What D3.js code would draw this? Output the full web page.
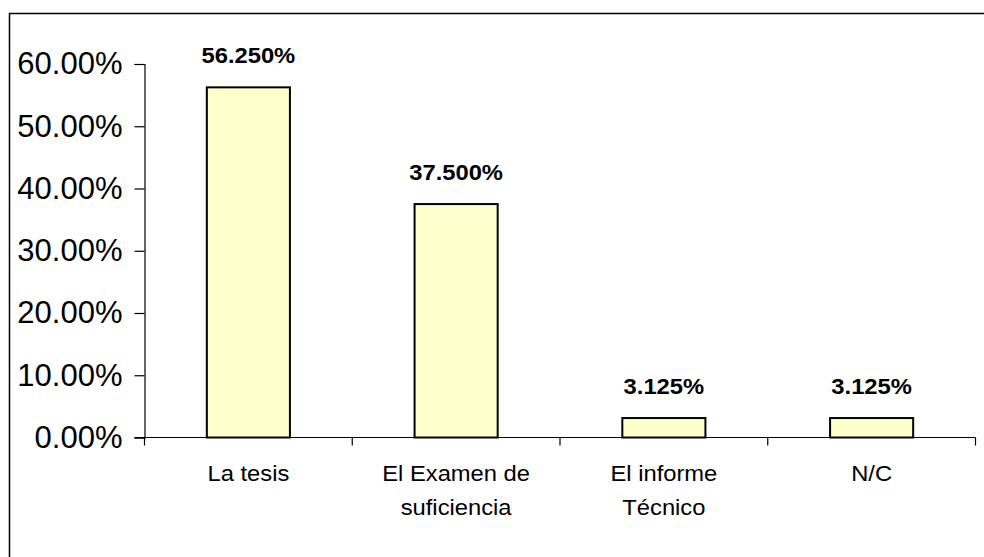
<!DOCTYPE html>
<html>
<head>
<meta charset="utf-8">
<script src="https://cdn.jsdelivr.net/npm/d3@7"></script>
<style>
  html, body { margin: 0; padding: 0; background: #fff; }
  svg { display: block; }
  text { font-family: "Liberation Sans", Arial, sans-serif; fill: #000; }
</style>
</head>
<body>
<svg id="chart" width="984" height="557"></svg>
<script>
const categories = [["La tesis"], ["El Examen de", "suficiencia"], ["El informe", "Técnico"], ["N/C"]];
const values = [56.25, 37.5, 3.125, 3.125];
const valueLabels = ["56.250%", "37.500%", "3.125%", "3.125%"];
const yTicks = [0, 10, 20, 30, 40, 50, 60];

(function () {
const svg = d3.select("#chart");
const W = 984, H = 557;
const stretch = 1.08;

// outer frame
svg.append("rect")
  .attr("x", 9.5).attr("y", 13.5)
  .attr("width", W + 20).attr("height", H + 20)
  .attr("fill", "none").attr("stroke", "#000").attr("stroke-width", 1.5);

const pLeft = 144.5, pRight = 975.5, pTop = 64, pBottom = 437.5;

const x = d3.scaleBand()
  .domain(d3.range(values.length))
  .range([pLeft, pRight])
  .padding(0);

const y = d3.scaleLinear().domain([0, 60]).range([pBottom, pTop]);

// bars
const barW = x.bandwidth() * 0.4;
svg.selectAll("rect.bar")
  .data(values)
  .enter().append("rect")
  .attr("class", "bar")
  .attr("x", (d, i) => x(i) + (x.bandwidth() - barW) / 2)
  .attr("y", d => y(d))
  .attr("width", barW)
  .attr("height", d => y(0) - y(d))
  .attr("fill", "#FFFFCC")
  .attr("stroke", "#000")
  .attr("stroke-width", 2);

// y axis
const yAxis = d3.axisLeft(y)
  .tickValues(yTicks)
  .tickFormat(d => d.toFixed(2) + "%")
  .tickSize(10)
  .tickPadding(12);
const ya = svg.append("g").attr("transform", `translate(${pLeft},0)`).call(yAxis);
ya.select(".domain").attr("stroke", "#000").attr("stroke-width", 1.2);
ya.selectAll(".tick line").attr("stroke", "#000").attr("stroke-width", 1.2);
ya.selectAll(".tick text")
  .attr("font-size", 31)
  .attr("font-family", "'Liberation Sans', Arial, sans-serif")
  .attr("fill", "#000");

// x axis line
svg.append("line")
  .attr("x1", pLeft - 10).attr("x2", pRight)
  .attr("y1", pBottom).attr("y2", pBottom)
  .attr("stroke", "#000").attr("stroke-width", 1.2);

// category boundary ticks
const bounds = d3.range(values.length + 1).map(i => i < values.length ? x(i) : x(values.length - 1) + x.bandwidth());
svg.selectAll("line.ctick")
  .data(bounds)
  .enter().append("line")
  .attr("class", "ctick")
  .attr("x1", d => d).attr("x2", d => d)
  .attr("y1", pBottom).attr("y2", pBottom + 8)
  .attr("stroke", "#000").attr("stroke-width", 1.2);

// category labels
const cl = svg.selectAll("text.cat")
  .data(categories)
  .enter().append("text")
  .attr("class", "cat")
  .attr("text-anchor", "middle")
  .attr("font-size", 22)
  .attr("transform", (d, i) => `translate(${x(i) + x.bandwidth() / 2},481) scale(${stretch},1)`);
cl.selectAll("tspan")
  .data(d => d)
  .enter().append("tspan")
  .attr("x", 0)
  .attr("dy", (d, i) => i === 0 ? 0 : 34)
  .text(d => d);

// value labels
svg.selectAll("text.val")
  .data(values)
  .enter().append("text")
  .attr("class", "val")
  .attr("text-anchor", "middle")
  .attr("font-size", 22)
  .attr("font-weight", "bold")
  .attr("transform", (d, i) => `translate(${x(i) + x.bandwidth() / 2},${y(d) - 24}) scale(${stretch},1)`)
  .text((d, i) => valueLabels[i]);
})();
</script>
</body>
</html>
